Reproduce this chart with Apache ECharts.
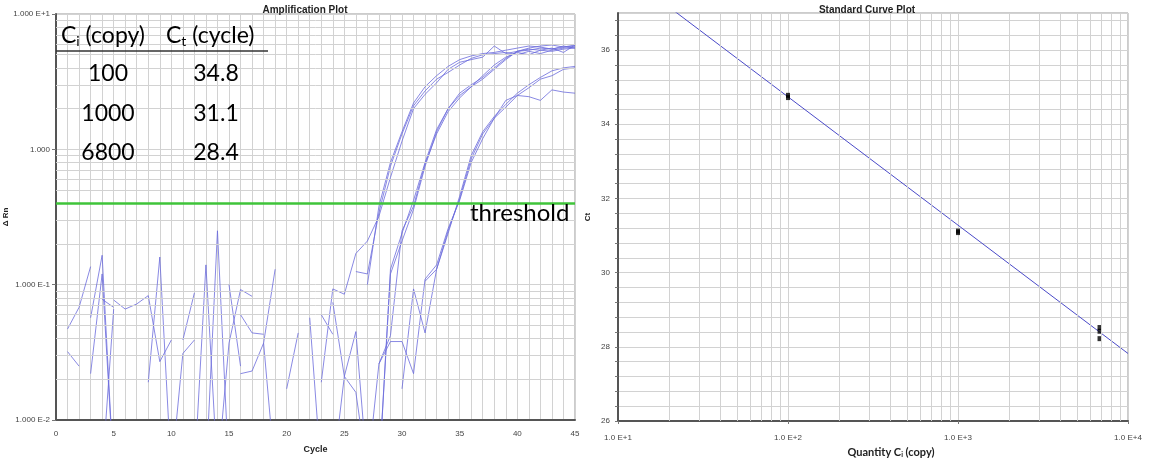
<!DOCTYPE html>
<html>
<head>
<meta charset="UTF-8">
<title>Amplification Plot / Standard Curve Plot</title>
<script src="https://cdn.jsdelivr.net/npm/echarts@6.0.0/dist/echarts.min.js"></script>
<style>
    body { margin: 0; background: #fff; }
    #main { width: 1150px; height: 463px; }
</style>
</head>
<body>
<div id="main"></div>
<script>
// ---------- amplification plot data (delta Rn per cycle, null = negative / not plotted) ----------
const cycles = [1,2,3,4,5,6,7,8,9,10,11,12,13,14,15,16,17,18,19,20,21,22,23,24,25,26,27,28,29,30,
                31,32,33,34,35,36,37,38,39,40,41,42,43,44,45];

// 6800 copies
const rnA1 = [0.047,0.068,0.136,null,0.077,0.066,0.072,0.083,0.027,0.039,
              null,0.004,0.14,0.004,0.037,0.092,0.082,null,null,0.017,
              0.044,null,0.019,0.093,0.085,0.17,0.21,0.32,0.62,1.15,
              2.0,2.55,3.1,3.9,4.4,4.6,4.8,5.8,5.1,5.3,
              5.5,5.4,5.6,5.2,5.9];
const rnA2 = [0.032,0.025,null,0.078,0.068,null,null,0.019,0.16,0.004,
              0.031,0.039,null,null,null,null,null,0.037,0.004,null,
              null,0.057,0.004,null,null,0.125,0.12,0.34,0.75,1.3,
              2.1,2.7,3.3,3.7,4.2,4.7,5.0,5.1,5.2,5.0,
              5.3,5.1,5.4,5.6,5.7];
const rnA3 = [null,null,0.022,0.12,0.004,null,null,null,null,null,
              null,null,0.004,0.25,0.004,null,null,null,null,null,
              null,null,0.06,0.043,null,null,0.1,0.38,0.8,1.35,
              2.2,2.9,3.5,4.1,4.6,4.9,5.1,5.2,5.4,5.6,
              5.8,5.7,5.5,5.8,5.6];
// 1000 copies
const rnB1 = [null,null,0.057,0.165,0.004,null,null,null,null,null,
              0.039,0.087,null,null,0.1,0.025,null,null,null,null,
              null,null,null,0.074,0.021,0.016,0.004,0.004,0.13,0.24,
              0.42,0.8,1.4,2.0,2.5,2.9,3.3,3.9,4.6,5.3,
              5.4,5.6,5.5,5.7,5.8];
const rnB2 = [null,null,null,0.004,0.066,null,null,null,null,null,
              null,null,null,null,null,0.06,0.044,0.043,null,null,
              null,null,null,0.004,0.021,0.045,0.004,0.026,0.042,0.25,
              0.38,0.78,1.3,1.9,2.4,2.9,3.5,4.2,4.8,5.2,
              5.0,5.4,5.3,5.5,5.6];
const rnB3 = [null,null,null,null,null,null,null,null,null,null,
              null,null,null,null,null,0.022,0.023,0.037,0.13,null,
              null,null,null,null,null,null,null,0.004,0.12,0.21,
              0.36,0.75,1.35,2.0,2.6,3.0,3.4,4.0,4.7,5.3,
              5.6,5.8,5.9,5.7,5.9];
// 100 copies
const rnC1 = [null,null,null,null,null,null,null,null,null,null,
              null,null,null,null,null,null,null,null,null,null,
              null,null,null,null,null,null,null,null,null,0.017,
              0.093,0.044,0.13,0.24,0.45,0.9,1.35,1.75,2.15,2.6,
              3.0,3.4,3.8,4.0,4.1];
const rnC2 = [null,null,null,null,null,null,null,null,null,null,
              null,null,null,null,null,null,null,null,null,null,
              null,null,null,null,null,null,null,null,null,null,
              null,0.106,0.13,0.25,0.43,0.85,1.3,1.7,2.05,2.5,
              2.85,3.3,3.5,3.9,4.0];
const rnC3 = [null,null,null,null,null,null,null,null,null,null,
              null,null,null,null,null,null,null,null,null,null,
              null,null,null,null,null,null,null,0.026,0.038,0.038,
              0.022,0.11,0.14,0.26,0.42,0.8,1.2,1.7,2.3,2.5,
              2.45,2.3,2.75,2.65,2.6];
const ampCurves = [rnA1, rnA2, rnA3, rnB1, rnB2, rnB3, rnC1, rnC2, rnC3];
const threshold = 0.4;
const ampYLabels = ['1.000 E-2', '1.000 E-1', '1.000', '1.000 E+1'];

// table drawn over the amplification plot
const tableCopies = ['100', '1000', '6800'];
const tableCt = ['34.8', '31.1', '28.4'];

// ---------- standard curve data ----------
const stdQty = [100, 100, 1000, 1000, 6800, 6800, 6800];
const stdCt = [34.72, 34.78, 31.08, 31.12, 28.42, 28.52, 28.22];
const fitQty = [10, 10000];
const fitCt = [38.2, 27.82];
const stdXLabels = ['1.0 E+1', '1.0 E+2', '1.0 E+3', '1.0 E+4'];

// minor log grid positions
const mults = [2, 3, 4, 5, 6, 7, 8, 9];
const ampDecades = [0.01, 0.1, 1];
const stdDecades = [10, 100, 1000];
const ampMinorY = [];
ampDecades.forEach(d => mults.forEach(m => ampMinorY.push(+(d * m).toPrecision(3))));
const stdMinorX = [];
stdDecades.forEach(d => mults.forEach(m => stdMinorX.push(d * m)));

const gridColor = '#d2d2d2';
const curveColor = '#6b6bdc';
const labelFont = 'Liberation Sans';
const tableFont = 'Lato';
const tableSize = 23;

function log10i(v) { return Math.round(Math.log(v) / Math.LN10); }

const chart = echarts.init(document.getElementById('main'));

const series = [];
// minor grid lines
series.push({
    type: 'line', xAxisIndex: 0, yAxisIndex: 0, data: [], silent: true, z: 1,
    markLine: {
        silent: true, symbol: ['none', 'none'], label: { show: false }, animation: false,
        lineStyle: { color: gridColor, width: 1, type: 'solid' },
        emphasis: { disabled: true },
        data: ampMinorY.map(v => ({ yAxis: v }))
    }
});
series.push({
    type: 'line', xAxisIndex: 1, yAxisIndex: 1, data: [], silent: true, z: 1,
    markLine: {
        silent: true, symbol: ['none', 'none'], label: { show: false }, animation: false,
        lineStyle: { color: gridColor, width: 1, type: 'solid' },
        emphasis: { disabled: true },
        data: stdMinorX.map(v => ({ xAxis: v }))
    }
});
// amplification curves
ampCurves.forEach(arr => {
    series.push({
        type: 'line', xAxisIndex: 0, yAxisIndex: 0, z: 3,
        data: cycles.map((c, i) => [c, arr[i] === null ? '-' : arr[i]]),
        showSymbol: false, connectNulls: false, clip: true, silent: true,
        lineStyle: { color: curveColor, width: 1, opacity: 0.8 }
    });
});
// threshold
series.push({
    type: 'line', xAxisIndex: 0, yAxisIndex: 0, data: [], silent: true, z: 5,
    markLine: {
        silent: true, symbol: ['none', 'none'], label: { show: false }, animation: false,
        lineStyle: { color: '#3fc43a', width: 2.5, type: 'solid' },
        data: [{ yAxis: threshold }]
    }
});
// standard curve fit + points
series.push({
    type: 'line', xAxisIndex: 1, yAxisIndex: 1, z: 3, silent: true, clip: true,
    data: fitQty.map((q, i) => [q, fitCt[i]]),
    showSymbol: false,
    lineStyle: { color: '#4a4ac8', width: 1 }
});
series.push({
    type: 'scatter', xAxisIndex: 1, yAxisIndex: 1, z: 4, silent: true,
    data: stdQty.map((q, i) => [q, stdCt[i]]),
    symbol: 'rect', symbolSize: [4, 5],
    itemStyle: { color: '#000' }
});

const headRich = {
    a: { fontSize: tableSize, fontFamily: tableFont, fill: '#000' },
    s: { fontSize: 14, fontFamily: tableFont, fill: '#000', padding: [11, 0, 0, 0] }
};
const tableGraphics = [];
tableGraphics.push({
    type: 'text', x: 61, y: 36, z: 100,
    style: { text: '{a|C}{s|i}{a| (copy)}', verticalAlign: 'middle', rich: headRich }
});
tableGraphics.push({
    type: 'text', x: 166, y: 36, z: 100,
    style: { text: '{a|C}{s|t}{a| (cycle)}', verticalAlign: 'middle', rich: headRich }
});
tableGraphics.push({
    type: 'line', z: 100, shape: { x1: 56, y1: 51, x2: 268, y2: 51 },
    style: { stroke: '#333', lineWidth: 1.5 }
});
tableCopies.forEach((t, i) => {
    tableGraphics.push({
        type: 'text', x: 108, y: 74 + i * 39.5, z: 100,
        style: { text: t, align: 'center', verticalAlign: 'middle', fontSize: tableSize, fontFamily: tableFont, fill: '#000' }
    });
    tableGraphics.push({
        type: 'text', x: 216, y: 74 + i * 39.5, z: 100,
        style: { text: tableCt[i], align: 'center', verticalAlign: 'middle', fontSize: tableSize, fontFamily: tableFont, fill: '#000' }
    });
});
tableGraphics.push({
    type: 'text', x: 470, y: 213, z: 100,
    style: { text: 'threshold', verticalAlign: 'middle', fontSize: 24, fontFamily: tableFont, fill: '#000' }
});

const axisText = { color: '#444', fontSize: 8, fontFamily: labelFont };

chart.setOption({
    animation: false,
    backgroundColor: '#fff',
    title: [
        { text: 'Amplification Plot', left: 300, top: 0, textAlign: 'center',
          textStyle: { fontSize: 10, fontWeight: 'bold', fontFamily: labelFont, color: '#222' } },
        { text: 'Standard Curve Plot', left: 862, top: 0, textAlign: 'center',
          textStyle: { fontSize: 10, fontWeight: 'bold', fontFamily: labelFont, color: '#222' } }
    ],
    grid: [
        { left: 56, top: 14, width: 519, height: 406, show: true, borderColor: '#999', borderWidth: 1,
          backgroundColor: '#fff', outerBoundsMode: 'none', containLabel: false },
        { left: 618, top: 13, width: 510, height: 408, show: true, borderColor: '#999', borderWidth: 1,
          backgroundColor: '#fff', outerBoundsMode: 'none', containLabel: false }
    ],
    xAxis: [
        {
            gridIndex: 0, type: 'value', min: 0, max: 45, interval: 5,
            name: 'Cycle', nameLocation: 'middle', nameGap: 25,
            nameTextStyle: { fontSize: 9, fontWeight: 'bold', fontFamily: labelFont, color: '#222' },
            axisLine: { show: true, onZero: false, lineStyle: { color: '#555', width: 2 } },
            axisTick: { show: false },
            axisLabel: { ...axisText, margin: 10 },
            splitLine: { show: true, lineStyle: { color: gridColor, width: 1 } },
            minorTick: { show: false, splitNumber: 5 },
            minorSplitLine: { show: true, lineStyle: { color: gridColor, width: 1 } }
        },
        {
            gridIndex: 1, type: 'log', logBase: 10, min: 10, max: 10000,
            name: '{b|Quantity C}{s|i}{b| (copy)}', nameLocation: 'middle', nameGap: 25,
            nameTextStyle: {
                padding: [0, 0, 0, 36],
                rich: { b: { fontSize: 11, fontWeight: 'bold', fontFamily: tableFont, color: '#222' },
                        s: { fontSize: 7, fontWeight: 'bold', fontFamily: tableFont, color: '#222', padding: [5, 0, 0, 0] } }
            },
            axisLine: { show: true, onZero: false, lineStyle: { color: '#555', width: 2 } },
            axisTick: { show: true, length: 3, lineStyle: { color: '#777' } },
            axisLabel: { ...axisText, margin: 13, formatter: v => stdXLabels[log10i(v) - 1] },
            splitLine: { show: true, lineStyle: { color: gridColor, width: 1 } }
        }
    ],
    yAxis: [
        {
            gridIndex: 0, type: 'log', logBase: 10, min: 0.01, max: 10,
            name: 'Δ Rn', nameLocation: 'middle', nameGap: 42, nameRotate: 90,
            nameTextStyle: { fontSize: 8, fontWeight: 'bold', fontFamily: labelFont, color: '#222' },
            axisLine: { show: true, onZero: false, lineStyle: { color: '#555', width: 2 } },
            axisTick: { show: true, length: 4, lineStyle: { color: '#777' } },
            axisLabel: { ...axisText, margin: 6, formatter: v => ampYLabels[log10i(v) + 2] },
            splitLine: { show: true, lineStyle: { color: gridColor, width: 1 } }
        },
        {
            gridIndex: 1, type: 'value', min: 26, max: 37, interval: 0.4,
            name: 'Ct', nameLocation: 'middle', nameGap: 26, nameRotate: 90,
            nameTextStyle: { fontSize: 8, fontWeight: 'bold', fontFamily: labelFont, color: '#222' },
            axisLine: { show: true, onZero: false, lineStyle: { color: '#555', width: 2 } },
            axisTick: { show: true, length: 3, lineStyle: { color: '#777' } },
            axisLabel: {
                ...axisText, margin: 8, showMaxLabel: false,
                formatter: v => (Math.abs(v / 2 - Math.round(v / 2)) < 1e-6 ? String(Math.round(v)) : '')
            },
            splitLine: { show: true, lineStyle: { color: gridColor, width: 1 } }
        }
    ],
    series: series,
    graphic: tableGraphics
});
</script>
</body>
</html>
